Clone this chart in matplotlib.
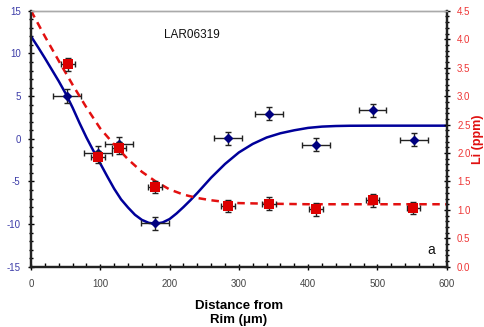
import numpy as np
import matplotlib
matplotlib.use("Agg")
import matplotlib.pyplot as plt
from matplotlib.ticker import MultipleLocator

plt.rcParams['font.family'] = ['Liberation Sans', 'DejaVu Sans']
plt.rcParams['axes.unicode_minus'] = False

# measured points, left axis (delta) in blue
blue_x = [52, 97, 127, 179, 284, 344, 411, 493, 553]
blue_y = [5.0, -1.65, -0.55, -9.9, 0.05, 2.95, -0.7, 3.35, -0.1]
blue_xerr = 20
blue_yerr = 0.78

# measured points, right axis (Li ppm) in red
red_x = [53, 97, 127, 179, 284, 343, 411, 493, 552]
red_y = [3.56, 1.93, 2.09, 1.40, 1.07, 1.11, 1.01, 1.17, 1.03]
red_xerr = 10
red_yerr = 0.11

# model curves
blue_cx = [0, 10, 20, 30, 40, 50, 60, 70, 80, 90, 100, 110, 120, 130, 140,
           150, 160, 170, 180, 190, 200, 210, 220, 230, 240, 260, 280, 300,
           320, 340, 360, 380, 400, 420, 440, 460, 500, 550, 600]
blue_cy = [12.0, 10.75, 9.45, 8.1, 6.75, 5.3, 3.65, 1.85, 0.15, -1.4, -2.9,
           -4.4, -5.85, -7.1, -8.05, -8.9, -9.5, -9.85, -9.95, -9.8, -9.4,
           -8.75, -8.0, -7.2, -6.35, -4.55, -2.95, -1.6, -0.6, 0.15, 0.65,
           1.0, 1.28, 1.43, 1.5, 1.53, 1.54, 1.54, 1.54]

red_cx = [0, 20, 40, 60, 80, 100, 120, 140, 160, 180, 200, 220, 240, 260,
          280, 300, 340, 400, 600]
red_cy = [4.5, 4.05, 3.62, 3.2, 2.8, 2.43, 2.15, 1.89, 1.67, 1.50, 1.36,
          1.27, 1.21, 1.17, 1.14, 1.12, 1.11, 1.10, 1.10]

fig = plt.figure(figsize=(4.85, 3.27), dpi=100)
ax = fig.add_axes([0.064, 0.184, 0.857, 0.783])
ax2 = ax.twinx()

ax.plot(blue_cx, blue_cy, color='#00009a', lw=1.8, zorder=2)
ax.errorbar(blue_x, blue_y, xerr=blue_xerr, yerr=blue_yerr, fmt='D',
            color='#000080', ms=4.5, ecolor='#222222', elinewidth=1,
            capsize=2.5, capthick=1, zorder=3)

ax2.plot(red_cx, red_cy, color='#e31010', lw=1.8, ls=(0, (3, 2.2)), zorder=2)
ax2.errorbar(red_x, red_y, xerr=red_xerr, yerr=red_yerr, fmt='none',
             ecolor='#222222', elinewidth=1, capsize=2.5, capthick=1,
             zorder=3)
ax2.plot(red_x, red_y, 's', color='#dd0000', mew=0, ms=7.5, zorder=4)

ax.set_xlim(0, 600)
ax.set_ylim(-15, 15)
ax2.set_ylim(0, 4.5)

ax.xaxis.set_major_locator(MultipleLocator(100))
ax.xaxis.set_minor_locator(MultipleLocator(20))
ax.yaxis.set_major_locator(MultipleLocator(5))
ax.yaxis.set_minor_locator(MultipleLocator(1))
ax2.yaxis.set_major_locator(MultipleLocator(0.5))
ax2.yaxis.set_minor_locator(MultipleLocator(0.1))
ax2.yaxis.set_major_formatter(plt.FormatStrFormatter('%.1f'))

ax.tick_params(axis='x', which='major', direction='inout', length=5, width=1,
               labelsize=7, labelcolor='#444444', pad=6)
ax.tick_params(axis='x', which='minor', direction='in', length=3, width=1)
ax.tick_params(axis='y', which='major', direction='inout', length=5, width=1,
               labelsize=7, labelcolor='#3c3ca8', pad=5)
ax.tick_params(axis='y', which='minor', direction='inout', length=3, width=1)
ax2.tick_params(axis='y', which='major', direction='inout', length=5, width=1,
                labelsize=7, labelcolor='#ee3535', pad=5)
ax2.tick_params(axis='y', which='minor', direction='inout', length=3, width=1)

for a in (ax, ax2):
    a.spines['top'].set_color('#aaaaaa')
    a.spines['top'].set_linewidth(1)
    for s in ('left', 'right', 'bottom'):
        a.spines[s].set_color('#222222')
        a.spines[s].set_linewidth(1.6)

ax.text(232, 12.2, 'LAR06319', ha='center', va='center', fontsize=8.5,
        color='#111111')
ax2.text(578, 0.3, 'a', ha='center', va='center', fontsize=10,
         color='#111111')

ax.set_xlabel('Distance from\nRim (\u03bcm)', fontsize=9.5, fontweight='bold',
              labelpad=8, linespacing=1.3)
ax2.set_ylabel('Li (ppm)', fontsize=9, fontweight='bold', color='#e01010',
               labelpad=1)

fig.savefig('out.png', dpi=100)
